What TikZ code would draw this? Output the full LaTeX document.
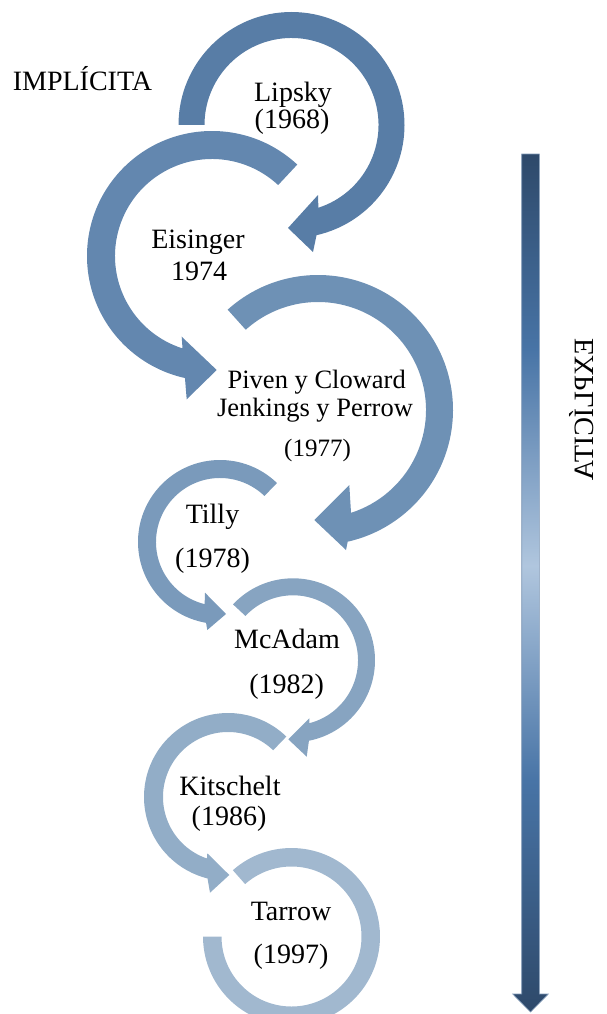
\documentclass[tikz,border=0pt]{standalone}
\usepackage{fontspec}
\setmainfont{Liberation Serif}
\definecolor{arrA}{RGB}{88,125,166}
\definecolor{arrB}{RGB}{99,135,175}
\definecolor{arrC}{RGB}{110,145,181}
\definecolor{arrD}{RGB}{122,154,187}
\definecolor{arrE}{RGB}{135,164,193}
\definecolor{arrF}{RGB}{146,173,199}
\definecolor{arrG}{RGB}{161,184,207}
\definecolor{vdark}{RGB}{46,73,106}
\definecolor{vblue}{RGB}{72,116,166}
\definecolor{vlight}{RGB}{176,198,222}
\definecolor{vedge}{RGB}{125,150,180}
% dark -> blue -> light -> blue -> dark, bottom to top
\pgfdeclareverticalshading{explshade}{100bp}{color(0bp)=(vdark); color(25bp)=(vdark); color(38.5bp)=(vblue); color(51bp)=(vlight); color(63.6bp)=(vblue); color(75bp)=(vdark); color(100bp)=(vdark)}
\begin{document}
\begin{tikzpicture}[x=1pt,y=1pt,
  lbl/.style={font=\fontsize{28}{30}\selectfont, inner sep=0pt, anchor=base},
  lblsm/.style={lbl, font=\fontsize{26.5}{30}\selectfont},
  lblxs/.style={lbl, font=\fontsize{25}{30}\selectfont}]
\useasboundingbox (0,0) rectangle (606,-1014);

% curved arrows, one per stage
\begin{scope}[shift={(291.5,-125)}]
  \fill[arrA] (180:113) arc[start angle=180, end angle=-77.2, radius=113]
    -- (21.5,-127) -- (-3.5,-103) -- (26.5,-70)
    -- (-72:87) arc[start angle=-72, end angle=180, radius=87] -- cycle;
\end{scope}
\begin{scope}[shift={(212,-256)}]
  \fill[arrB] (47:125) arc[start angle=47, end angle=257.5, radius=125]
    -- (-25.3,-143.3) -- (4.7,-114) -- (-30.3,-80.7)
    -- (252.3:97) arc[start angle=252.3, end angle=47, radius=97] -- cycle;
\end{scope}
\begin{scope}[shift={(318,-410)}]
  \fill[arrC] (132:135) arc[start angle=132, end angle=-77.3, radius=135]
    -- (28,-140) -- (-3.7,-110) -- (31.3,-75)
    -- (-72.2:108) arc[start angle=-72.2, end angle=132, radius=108] -- cycle;
\end{scope}
\begin{scope}[shift={(220,-542)}]
  \fill[arrD] (46:82) arc[start angle=46, end angle=260.2, radius=82]
    -- (-12.7,-88) -- (6,-72) -- (-15,-50.7)
    -- (256.1:64) arc[start angle=256.1, end angle=46, radius=64] -- cycle;
\end{scope}
\begin{scope}[shift={(293,-660.3)}]
  \fill[arrE] (137:82) arc[start angle=137, end angle=-78.8, radius=82]
    -- (13.7,-96.4) -- (-4.7,-79) -- (16.3,-58)
    -- (-75.3:65) arc[start angle=-75.3, end angle=137, radius=65] -- cycle;
\end{scope}
\begin{scope}[shift={(228,-797)}]
  \fill[arrF] (46:84) arc[start angle=46, end angle=255.9, radius=84]
    -- (-18,-95.7) -- (1.3,-78) -- (-20.7,-56.3)
    -- (251.1:65) arc[start angle=251.1, end angle=46, radius=65] -- cycle;
\end{scope}
\begin{scope}[shift={(291.5,-936.5)}]
  \fill[arrG] (131.5:88.5) arc[start angle=131.5, end angle=-180, radius=88.5]
    -- (180:70) arc[start angle=-180, end angle=131.5, radius=70] -- cycle;
\end{scope}

% vertical scale arrow
\path[shading=explshade, draw=vedge, line width=0.6]
  (521.7,-154) -- (539.3,-154) -- (539.3,-994) -- (548.3,-994)
  -- (530.5,-1012) -- (512.7,-994) -- (521.7,-994) -- cycle;

% labels
\node[lbl] (impl) at (82.5,-91) {IMPLÍCITA};
\node[lbl, anchor=base west, cm={0,-1,-1,0,(0,0)}] (expl) at (593.3,-338) {EXPLÍCITA};

\node[lbl] (lipsky) at (293,-101.7) {Lipsky};
\node[lbl] (lipskyyr) at (292,-128.3) {(1968)};
\node[lbl] (eis) at (198,-248) {Eisinger};
\node[lbl] (eisyr) at (199,-280.7) {1974};
\node[lblsm] (piven) at (316.7,-388.3) {Piven y Cloward};
\node[lblsm] (jenk) at (315,-416.7) {Jenkings y Perrow};
\node[lblxs] (pivenyr) at (317.5,-456.7) {(1977)};
\node[lbl] (tilly) at (212.5,-523.3) {Tilly};
\node[lbl] (tillyyr) at (212.5,-567.3) {(1978)};
\node[lbl] (mcadam) at (287,-648.3) {McAdam};
\node[lbl] (mcadamyr) at (286.7,-693.3) {(1982)};
\node[lbl] (kit) at (230,-795) {Kitschelt};
\node[lbl] (kityr) at (229,-825) {(1986)};
\node[lbl] (tarrow) at (291,-920) {Tarrow};
\node[lbl] (tarrowyr) at (291,-963.3) {(1997)};
\end{tikzpicture}
\end{document}
